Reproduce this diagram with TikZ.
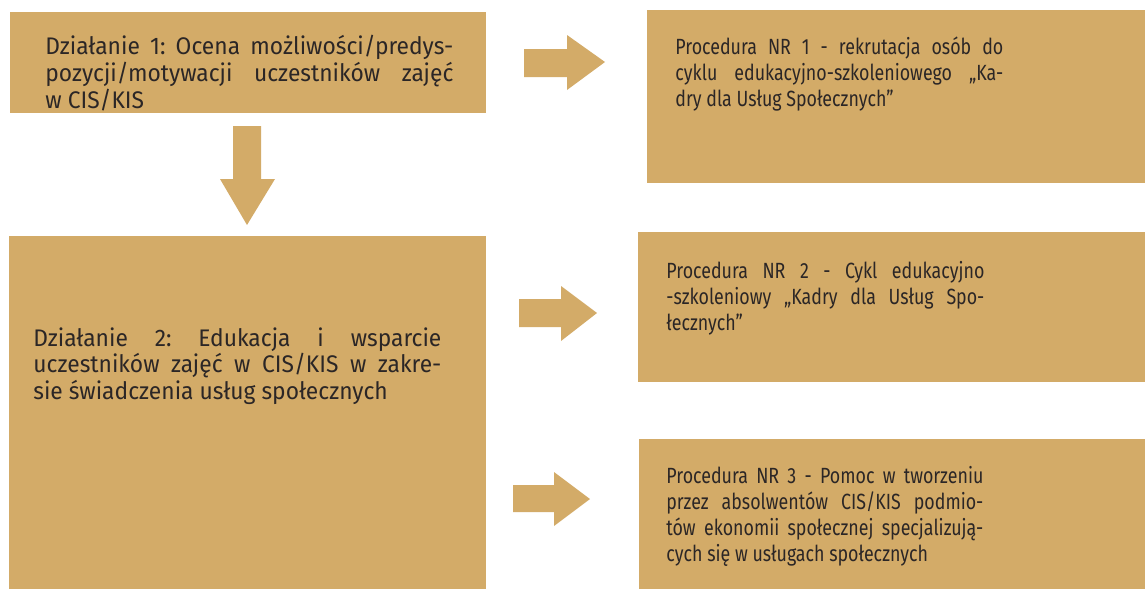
\documentclass[tikz,border=0pt]{standalone}
\usepackage{fontspec}
\setmainfont{Fira Sans}[FakeStretch=0.95]
\newfontfamily\narrowfont[FakeStretch=0.81]{Fira Sans}
\usetikzlibrary{positioning}
\definecolor{gold}{HTML}{D3AB68}
\definecolor{ink}{HTML}{2B2626}
\frenchspacing

\begin{document}
\begin{tikzpicture}[x=0.5pt, y=-0.5pt,
  box/.style={fill=gold, inner sep=0, anchor=north west},
  lefttext/.style={inner sep=0, anchor=north west, text width=204pt, align=justify, text=ink,
    font=\fontsize{12}{13.4}\selectfont},
  righttext/.style={inner sep=0, anchor=north west, align=justify, text=ink,
    font=\narrowfont\fontsize{11}{13}\selectfont}]
%\draw[help lines, color=gray!30, dashed] (0,0) grid[step=50] (1145,589);
\useasboundingbox (0,0) rectangle (1145,589);
% boxes
\node[box, minimum width=238pt, minimum height=50.5pt] (act1) at (10,12) {};
\node[box, minimum width=238.5pt, minimum height=176.5pt] (act2) at (9,236) {};
\node[box, minimum width=249pt, minimum height=86.5pt] (proc1) at (647,10) {};
\node[box, minimum width=253.5pt, minimum height=75pt] (proc2) at (638,232) {};
\node[box, minimum width=253pt, minimum height=75pt] (proc3) at (639,439) {};
% texts
\node[lefttext] (act1txt) at (45,35) {Działanie 1: Ocena możliwości/predys-\linebreak
  pozycji/motywacji uczestników zajęć\linebreak w CIS/KIS};
\node[lefttext] (act2txt) at (33,327) {Działanie 2: Edukacja i wsparcie\linebreak
  uczestników zajęć w CIS/KIS w zakre-\linebreak sie świadczenia usług społecznych};
\node[righttext, text width=164pt] (proc1txt) at (675,36) {Procedura NR 1 - rekrutacja osób do\linebreak
  cyklu edukacyjno-szkoleniowego „Ka-\linebreak dry dla Usług Społecznych”};
\node[righttext, text width=159pt] (proc2txt) at (666,261) {Procedura NR 2 - Cykl edukacyjno\linebreak
  -szkoleniowy „Kadry dla Usług Spo-\linebreak łecznych”};
\node[righttext, text width=158.5pt] (proc3txt) at (666,466) {Procedura NR 3 - Pomoc w tworzeniu\linebreak
  przez absolwentów CIS/KIS podmio-\linebreak tów ekonomii społecznej specjalizują-\linebreak
  cych się w usługach społecznych};
% arrows
\fill[gold] (233,126) -- (261,126) -- (261,179) -- (275,179) -- (247,225) -- (220,179) -- (233,179) -- cycle;
\fill[gold] (524,49) -- (567,49) -- (567,35) -- (605,62) -- (567,90) -- (567,77) -- (524,77) -- cycle;
\fill[gold] (519,299) -- (561,299) -- (561,286) -- (597,313) -- (561,341) -- (561,327) -- (519,327) -- cycle;
\fill[gold] (513,485) -- (554,485) -- (554,472) -- (590,499) -- (554,526) -- (554,512) -- (513,512) -- cycle;
\end{tikzpicture}
\end{document}
